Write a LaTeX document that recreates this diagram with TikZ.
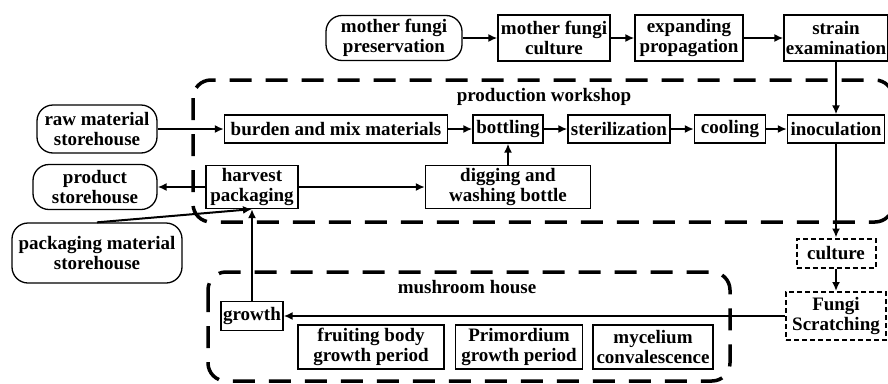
\documentclass[tikz,border=0pt]{standalone}
\usepackage{fontspec}
\setmainfont{Liberation Serif}
\usetikzlibrary{arrows.meta}

\begin{document}
\begin{tikzpicture}[x=1pt,y=-1pt,
    every node/.style={font=\fontsize{19}{20}\selectfont\bfseries},
    box/.style={shape=rectangle,draw=black,line width=1.3pt,inner sep=0pt,align=center},
    store/.style={box,rounded corners=16pt},
    dashbox/.style={box,line width=2pt,dash pattern=on 5pt off 3pt},
    area/.style={draw=black,line width=3.5pt,dash pattern=on 22pt off 14pt,rounded corners=18pt},
    flow/.style={-{Latex[length=9pt,width=8pt]},line width=2pt}]
    \useasboundingbox (0,0) rectangle (888,383);
    \draw[area] (193,80) rectangle (893,222);
    \draw[area] (208,272) rectangle (730,381);
    \node (pw) at (544,97) {production workshop};
    \node (mh) at (467,287) {mushroom house};
    \node[store,minimum width=136,minimum height=45] (pres) at (394,38) {mother fungi\\preservation};
    \node[box,minimum width=112,minimum height=46] (cult) at (554,38) {mother fungi\\culture};
    \node[box,minimum width=108,minimum height=46] (expand) at (689,38) {expanding\\propagation};
    \node[box,minimum width=104,minimum height=46] (strain) at (836,38) {strain\\examination};
    \node[store,minimum width=120,minimum height=48] (raw) at (97,129) {raw material\\storehouse};
    \node[box,minimum width=223,minimum height=28] (burden) at (336,129) {burden and mix materials};
    \node[box,minimum width=70,minimum height=28] (bot) at (508,129) {bottling};
    \node[box,minimum width=102,minimum height=28] (steril) at (619,129) {sterilization};
    \node[box,minimum width=71,minimum height=28] (cool) at (730,129) {cooling};
    \node[box,minimum width=97,minimum height=28] (inoc) at (836,129) {inoculation};
    \node[store,minimum width=124,minimum height=45] (prod) at (95,187) {product\\storehouse};
    \node[box,minimum width=92,minimum height=43] (harv) at (252,187) {harvest\\packaging};
    \node[box,minimum width=165,minimum height=43] (dig) at (508,187) {digging and\\washing bottle};
    \node[store,minimum width=170,minimum height=60] (pack) at (97,253) {packaging material\\storehouse};
    \node[dashbox,minimum width=79,minimum height=29] (culture) at (836,253) {culture};
    \node[dashbox,minimum width=100,minimum height=48] (scratch) at (836,316) {Fungi\\Scratching};
    \node[box,minimum width=62,minimum height=29] (growth) at (252,316) {growth};
    \node[box,minimum width=146,minimum height=44] (fruit) at (371,347) {fruiting body\\growth period};
    \node[box,minimum width=127,minimum height=44] (prim) at (519,347) {Primordium\\growth period};
    \node[box,minimum width=120,minimum height=44] (myc) at (653,347) {mycelium\\convalescence};
    \path [flow](pres) edge (cult);
    \path [flow](cult) edge (expand);
    \path [flow](expand) edge (strain);
    \path [flow](strain) edge (inoc);
    \path [flow](raw) edge (burden);
    \path [flow](burden) edge (bot);
    \path [flow](bot) edge (steril);
    \path [flow](steril) edge (cool);
    \path [flow](cool) edge (inoc);
    \path [flow](dig) edge (bot);
    \path [flow](harv) edge (dig);
    \path [flow](harv) edge (prod);
    \path [flow](pack.north) edge (harv.south);
    \path [flow](inoc) edge (culture);
    \path [flow](culture) edge (scratch);
    \path [flow](scratch) edge (growth);
    \path [flow](growth) edge (harv);
\end{tikzpicture}
\end{document}
